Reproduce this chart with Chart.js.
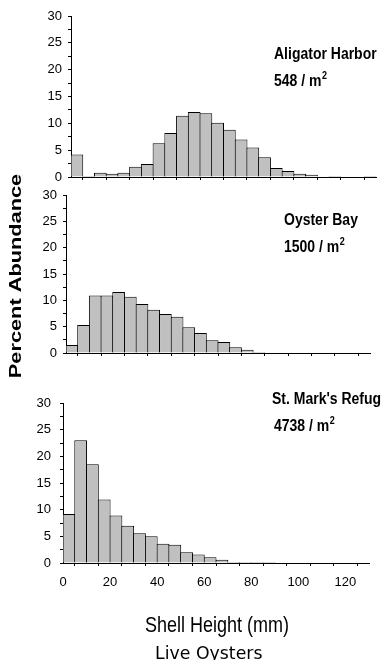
<!DOCTYPE html>
<html>
<head>
<meta charset="utf-8">
<script src="https://cdn.jsdelivr.net/npm/chart.js@4/dist/chart.umd.min.js"></script>
<style>
  html, body { margin: 0; padding: 0; background: #fff; }
  #wrap { position: relative; width: 385px; height: 660px; overflow: hidden; background: #fff; }
  #wrap canvas { position: absolute; left: 0; top: 0; }
</style>
</head>
<body>
<div id="wrap">
  <canvas id="c1" width="385" height="660"></canvas>
  <canvas id="c2" width="385" height="660"></canvas>
  <canvas id="c3" width="385" height="660"></canvas>
</div>
<script>
// Shell height classes (lower edge of each 5 mm bin)
const binStart = [0, 5, 10, 15, 20, 25, 30, 35, 40, 45, 50, 55, 60, 65,
                  70, 75, 80, 85, 90, 95, 100, 105, 110, 115, 120, 125];
const binWidth = 5;

// Percent abundance of live oysters per size class
const aligatorHarbor = [4.2, 0.2, 0.8, 0.6, 0.8, 1.9, 2.4, 6.3, 8.2, 11.4, 12.1, 11.9, 10.1,
                        8.8, 7.0, 5.5, 3.7, 1.7, 1.1, 0.6, 0.4, 0, 0.2, 0, 0, 0.2];
const oysterBay      = [1.5, 5.3, 10.9, 10.9, 11.6, 10.7, 9.3, 8.2, 7.4, 6.9, 4.9, 3.8, 2.4,
                        2.1, 1.1, 0.6, 0.2, 0, 0, 0, 0, 0, 0, 0, 0, 0];
const stMarks        = [9.2, 23.0, 18.5, 11.9, 8.9, 7.0, 5.6, 5.0, 3.6, 3.4, 2.0, 1.6, 1.1,
                        0.6, 0.2, 0.2, 0.2, 0.2, 0, 0, 0, 0, 0, 0, 0, 0];

// Axis labels
const xTickLabels = [0, 20, 40, 60, 80, 100, 120];
const yTickLabels = [0, 5, 10, 15, 20, 25, 30];

const FONT = '"Liberation Sans", Arial, sans-serif';
Chart.defaults.font.family = FONT;
Chart.defaults.font.size = 13;
Chart.defaults.color = '#000';

// Fixed axis box sizes so each plot area lands exactly where wanted
const Y_AXIS_W = 40;
const X_AXIS_H = 34;

// Draw text with optional stretch, rotation and superscript
function drawText(ctx, item) {
  ctx.save();
  ctx.translate(item.x, item.y);
  if (item.rotate) ctx.rotate(item.rotate);
  ctx.scale(item.sx || 1, item.sy || 1);
  ctx.fillStyle = '#000';
  ctx.font = item.font;
  ctx.textAlign = item.align || 'left';
  ctx.textBaseline = 'alphabetic';
  ctx.fillText(item.t, 0, 0);
  if (item.sup) {
    const w = ctx.measureText(item.t).width;
    ctx.font = item.supFont;
    ctx.fillText(item.sup, w + 0.5, -6);
  }
  ctx.restore();
}

const textPlugin = {
  id: 'panelText',
  afterDraw(chart, args, opts) {
    (opts.items || []).forEach(it => drawText(chart.ctx, it));
  }
};

const titleFont = 'bold 14px ' + FONT;
const supFont = 'bold 9px ' + FONT;

function makePanel(id, values, box, labelPad, showX, textItems) {
  const points = binStart.map((s, i) => ({ x: s + binWidth / 2, y: values[i] }));
  return new Chart(document.getElementById(id), {
    type: 'bar',
    data: {
      datasets: [{
        data: points,
        backgroundColor: '#c0c0c0',
        borderColor: '#000',
        borderWidth: 1,
        borderSkipped: 'start',
        inflateAmount: 0,
        barPercentage: 1.085,
        categoryPercentage: 1
      }]
    },
    options: {
      responsive: false,
      animation: false,
      events: [],
      layout: {
        padding: {
          left: box.left - Y_AXIS_W,
          top: box.top,
          right: 385 - box.right,
          bottom: 660 - box.bottom - X_AXIS_H
        }
      },
      plugins: {
        legend: { display: false },
        tooltip: { enabled: false },
        panelText: { items: textItems }
      },
      scales: {
        x: {
          type: 'linear',
          min: 0,
          max: 130,
          offset: false,
          afterFit: s => { s.height = X_AXIS_H; },
          border: { display: true, color: '#000', width: 1 },
          grid: { drawOnChartArea: false, drawTicks: true, tickLength: 3, color: '#000' },
          ticks: {
            stepSize: 10,
            autoSkip: false,
            maxRotation: 0,
            padding: 9,
            font: { size: 13 },
            callback: v => (showX && xTickLabels.includes(v)) ? String(v) : ''
          }
        },
        y: {
          min: 0,
          max: 30,
          afterFit: s => { s.width = Y_AXIS_W; },
          border: { display: true, color: '#000', width: 1 },
          grid: { drawOnChartArea: false, drawTicks: true, tickLength: 3, color: '#000' },
          ticks: {
            stepSize: 2.5,
            autoSkip: false,
            padding: labelPad,
            font: { size: 13 },
            callback: v => yTickLabels.includes(v) ? String(v) : ''
          }
        }
      }
    },
    plugins: [textPlugin]
  });
}

makePanel('c1', aligatorHarbor, { left: 71, right: 378, top: 16, bottom: 177 }, 6, false, [
  { t: 'Aligator Harbor', x: 274, y: 59, font: titleFont, sy: 1.17 },
  { t: '548 / m', sup: '2', x: 274, y: 86, font: titleFont, supFont: supFont, sy: 1.17 }
]);

makePanel('c2', oysterBay, { left: 66, right: 370, top: 195, bottom: 353 }, 6, false, [
  { t: 'Oyster Bay', x: 284, y: 225, font: titleFont, sy: 1.17 },
  { t: '1500 / m', sup: '2', x: 284, y: 252, font: titleFont, supFont: supFont, sy: 1.17 }
]);

makePanel('c3', stMarks, { left: 63, right: 369, top: 403, bottom: 563 }, 9, true, [
  { t: "St. Mark's Refug", x: 272, y: 404, font: titleFont, sy: 1.17 },
  { t: '4738 / m', sup: '2', x: 274, y: 431, font: titleFont, supFont: supFont, sy: 1.17 },
  { t: 'Percent Abundance', x: 21, y: 276, rotate: -Math.PI / 2, sx: 1.36, align: 'center',
    font: 'bold 16px ' + FONT },
  { t: 'Shell Height (mm)', x: 145, y: 632, font: '18px ' + FONT, sy: 1.2 },
  { t: 'Live Oysters', x: 155, y: 659, font: '17px "DejaVu Sans", sans-serif', sx: 1.02, sy: 1.08 }
]);
</script>
</body>
</html>
